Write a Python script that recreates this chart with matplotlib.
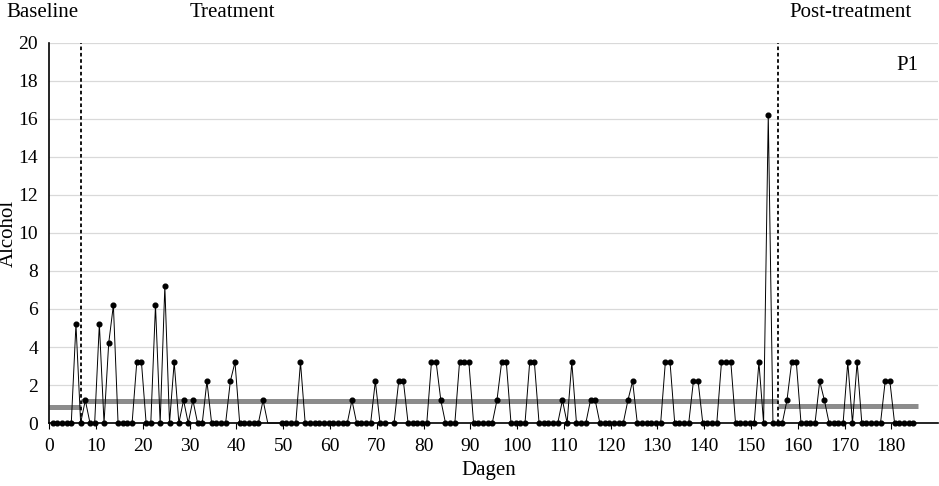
import matplotlib
matplotlib.use('Agg')
import matplotlib.pyplot as plt
import numpy as np

# alcohol units per day, None = no data for that day
alcohol = [
    0, 0, 0, 0, 0, 5.2, 0, 1.2, 0, 0,
    5.2, 0, 4.2, 6.2, 0, 0, 0, 0, 3.2, 3.2,
    0, 0, 6.2, 0, 7.2, 0, 3.2, 0, 1.2, 0,
    1.2, 0, 0, 2.2, 0, 0, 0, 0, 2.2, 3.2,
    0, 0, 0, 0, 0, 1.2, None, None, None, 0,
    0, 0, 0, 3.2, 0, 0, 0, 0, 0, 0,
    0, 0, 0, 0, 1.2, 0, 0, 0, 0, 2.2,
    0, 0, None, 0, 2.2, 2.2, 0, 0, 0, 0,
    0, 3.2, 3.2, 1.2, 0, 0, 0, 3.2, 3.2, 3.2,
    0, 0, 0, 0, 0, 1.2, 3.2, 3.2, 0, 0,
    0, 0, 3.2, 3.2, 0, 0, 0, 0, 0, 1.2,
    0, 3.2, 0, 0, 0, 1.2, 1.2, 0, 0, 0,
    0, 0, 0, 1.2, 2.2, 0, 0, 0, 0, 0,
    0, 3.2, 3.2, 0, 0, 0, 0, 2.2, 2.2, 0,
    0, 0, 0, 3.2, 3.2, 3.2, 0, 0, 0, 0,
    0, 3.2, 0, 16.2, 0, 0, 0, 1.2, 3.2, 3.2,
    0, 0, 0, 0, 2.2, 1.2, 0, 0, 0, 0,
    3.2, 0, 3.2, 0, 0, 0, 0, 0, 2.2, 2.2,
    0, 0, 0, 0, 0,
]

phase_names = ['Baseline', 'Treatment', 'Post-treatment']
phase_last_day = [6, 155]          # last day of baseline and of treatment
phase_means = [0.86, 1.15, 0.87]   # mean level per phase
participant = 'P1'

X_SHIFT = 0.7  # points sit inside their day slot, like Excel

plt.rcParams['font.family'] = ['Liberation Serif', 'DejaVu Serif']

days = np.arange(len(alcohol))
x = days + X_SHIFT
vals = np.array([np.nan if v is None else v for v in alcohol], dtype=float)
has_data = ~np.isnan(vals)

fig = plt.figure(figsize=(9.39, 4.86), dpi=100)
ax = fig.add_axes([0.0525, 0.1296, 0.9465, 0.782])

# phase means
b1 = phase_last_day[0] + X_SHIFT
b2 = phase_last_day[1] + X_SHIFT
end = len(alcohol) + X_SHIFT
ax.plot([0, b1], [phase_means[0]] * 2, color='#8c8c8c', lw=3.6, solid_capstyle='butt', zorder=2)
ax.plot([b1, b2], [phase_means[1]] * 2, color='#8c8c8c', lw=3.6, solid_capstyle='butt', zorder=2)
ax.plot([b2, end], [phase_means[2]] * 2, color='#8c8c8c', lw=3.6, solid_capstyle='butt', zorder=2)

# empty days drawn as zero, without marker
ax.plot(x, np.nan_to_num(vals), color='black', lw=0.7, zorder=3, clip_on=False)
ax.plot(x[has_data], vals[has_data], 'o', color='black', ms=3.4, zorder=4, clip_on=False)

# phase change lines
for b in (b1, b2):
    ax.axvline(b, color='black', lw=1.3, ls=(0, (2, 1.5)), zorder=3)

ax.set_xlim(0, 190)
ax.set_ylim(0, 20)
ax.set_xticks(np.arange(0, 190, 10))
ax.set_yticks(np.arange(0, 21, 2))
ax.tick_params(axis='x', direction='out', length=4, width=0.8, labelsize=14, pad=7)
ax.tick_params(axis='y', length=0, labelsize=14, pad=8)
ax.grid(axis='y', color='#d9d9d9', lw=0.9)
ax.set_axisbelow(True)
for s in ('top', 'right'):
    ax.spines[s].set_visible(False)
ax.spines['left'].set_linewidth(1.2)
ax.spines['bottom'].set_linewidth(1.2)

ax.set_xlabel('Dagen', fontsize=15)
ax.xaxis.set_label_coords(0.495, -0.1)
ax.set_ylabel('Alcohol', fontsize=15)
ax.yaxis.set_label_coords(-0.035, 0.5)

fig.text(0.0064, 0.975, phase_names[0], fontsize=15, ha='left', va='center')
fig.text(0.247, 0.975, phase_names[1], fontsize=15, ha='center', va='center')
fig.text(0.906, 0.975, phase_names[2], fontsize=15, ha='center', va='center')
ax.text(0.965, 0.94, participant, transform=ax.transAxes, fontsize=15,
        ha='center', va='center')

fig.savefig('out.png', dpi=100)
